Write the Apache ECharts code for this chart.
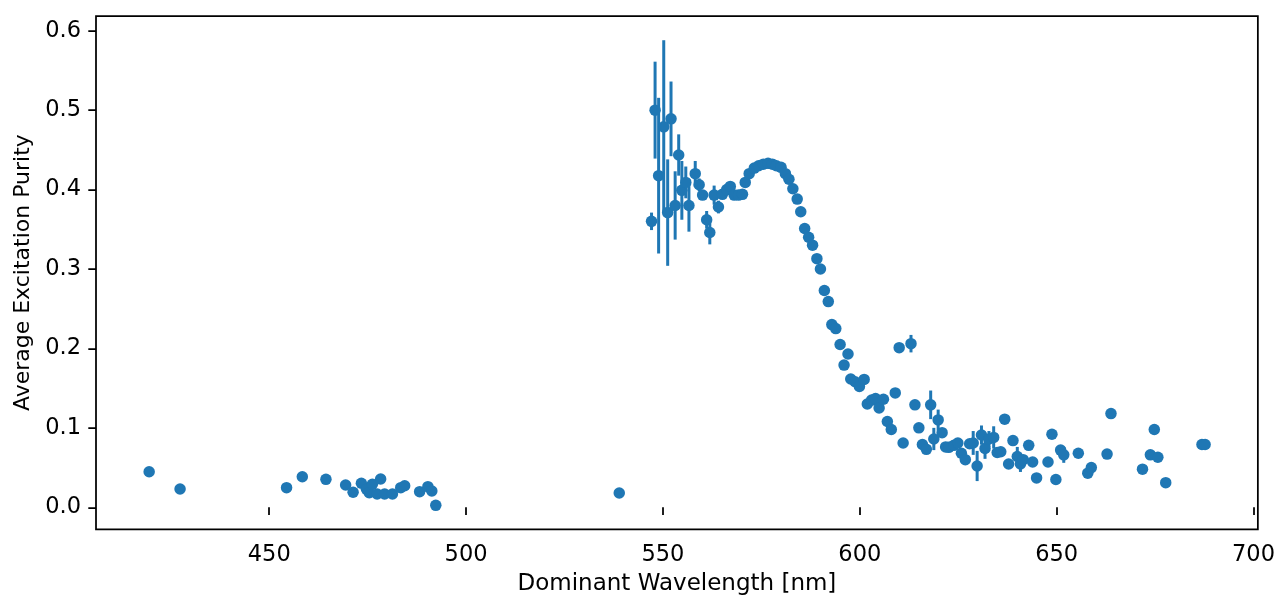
<!DOCTYPE html>
<html>
<head>
<meta charset="utf-8">
<script src="https://cdn.jsdelivr.net/npm/echarts@6/dist/echarts.min.js"></script>
<style>
html,body{margin:0;padding:0;background:#fff;}
#chart{width:1278px;height:601px;}
</style>
</head>
<body>
<div id="chart"></div>
<script>
// Dominant wavelength [nm]
const wavelength = [
  419.5, 427.35, 454.4, 458.4, 464.4, 469.4, 471.3, 473.4, 474.7, 475.4,
  476.2, 477.4, 478.3, 479.3, 481.3, 483.4, 484.4, 488.2, 490.3, 491.3,
  492.3, 538.9,
  547.1, 548.0, 548.9, 550.2, 551.2, 552.05, 553.1, 554.0, 554.8, 555.8,
  556.6, 558.2, 559.2, 560.07, 561.1, 561.9, 563.0, 564.1, 565.1, 566.2,
  567.1, 568.1, 569.2, 570.2, 570.9, 571.9, 573.2, 574.3, 575.5, 576.7,
  577.8, 578.8, 580.0, 581.1, 582.0, 583.0, 584.1, 585.0, 586.0, 587.0,
  588.0, 589.1, 590.0, 591.0, 592.0, 592.9, 593.9, 595.0, 596.0, 597.0,
  597.7, 598.8, 599.9, 601.1, 601.9, 603.0, 604.0, 604.9, 606.0, 607.0,
  608.0, 609.0, 610.0, 611.0, 613.0, 614.0, 615.0, 615.9, 616.9, 618.0,
  618.8, 619.9, 620.9, 621.8, 622.6, 623.9, 624.9, 625.8, 626.8, 627.9,
  628.8, 629.8, 630.9, 631.8, 632.8, 634.0, 634.9, 635.8, 636.8, 637.8,
  638.9, 640.0, 640.8, 641.5, 642.9, 643.9, 644.9, 647.8, 648.8, 649.8,
  651.0, 651.8, 655.5, 657.9, 658.8, 662.8, 663.8, 671.8, 673.8, 674.8,
  675.7, 677.7, 686.9, 687.7
];
// Average excitation purity
const purity = [
  0.0448, 0.023, 0.0247, 0.0385, 0.0352, 0.0281, 0.0189, 0.0302, 0.0227, 0.0184,
  0.029, 0.0167, 0.0356, 0.0167, 0.0167, 0.0247, 0.0272, 0.0197, 0.026, 0.0205,
  0.0025, 0.018,
  0.360, 0.500, 0.4175, 0.479, 0.371, 0.489, 0.380, 0.4435, 0.399, 0.409,
  0.380, 0.420, 0.406, 0.393, 0.362, 0.346, 0.393, 0.378, 0.394, 0.400,
  0.404, 0.393, 0.393, 0.394, 0.409, 0.420, 0.427, 0.430, 0.432, 0.433,
  0.432, 0.430, 0.428, 0.420, 0.413, 0.401, 0.388, 0.372, 0.351, 0.340,
  0.330, 0.313, 0.300, 0.273, 0.259, 0.230, 0.225, 0.205, 0.179, 0.193,
  0.1615, 0.158, 0.152, 0.161, 0.130, 0.135, 0.137, 0.125, 0.136, 0.108,
  0.098, 0.144, 0.201, 0.081, 0.206, 0.129, 0.100, 0.079, 0.073, 0.129,
  0.086, 0.110, 0.094, 0.076, 0.0755, 0.078, 0.081, 0.068, 0.060, 0.080,
  0.081, 0.052, 0.091, 0.074, 0.086, 0.088, 0.069, 0.070, 0.111, 0.0545,
  0.084, 0.064, 0.0545, 0.060, 0.078, 0.057, 0.037, 0.057, 0.092, 0.035,
  0.072, 0.066, 0.068, 0.043, 0.050, 0.067, 0.118, 0.048, 0.066, 0.098,
  0.063, 0.031, 0.079, 0.079
];
// Half-length of the vertical error bar (0 = not visible)
const purityError = [
  0, 0, 0, 0, 0, 0, 0, 0, 0, 0,
  0, 0, 0, 0, 0, 0, 0, 0, 0, 0,
  0, 0,
  0.011, 0.061, 0.098, 0.109, 0.067, 0.047, 0.043, 0.026, 0.037, 0.020,
  0.033, 0.016, 0.008, 0, 0.011, 0.015, 0.012, 0.008, 0, 0,
  0, 0, 0, 0, 0, 0, 0, 0, 0, 0,
  0, 0, 0, 0, 0, 0, 0, 0, 0, 0,
  0, 0, 0, 0, 0, 0, 0, 0, 0, 0,
  0, 0, 0, 0, 0, 0, 0, 0, 0, 0,
  0, 0, 0, 0, 0.011, 0, 0, 0, 0, 0.018,
  0.014, 0.013, 0, 0, 0, 0, 0, 0, 0, 0,
  0.015, 0.019, 0.012, 0.013, 0.010, 0.014, 0, 0, 0, 0,
  0, 0.012, 0.010, 0, 0, 0, 0, 0, 0, 0,
  0, 0.010, 0, 0, 0, 0, 0, 0, 0, 0,
  0, 0, 0, 0
];
const xTicks = [450, 500, 550, 600, 650, 700];
const yTicks = [0.0, 0.1, 0.2, 0.3, 0.4, 0.5, 0.6];

const color = '#1f77b4';
const font = 'DejaVu Sans';

const points = wavelength.map((x, i) => [x, purity[i]]);
const bars = wavelength.map((x, i) => [x, purity[i] - purityError[i], purity[i] + purityError[i]])
  .filter((d, i) => purityError[i] > 0);

const chart = echarts.init(document.getElementById('chart'), null, {renderer: 'canvas'});
chart.setOption({
  animation: false,
  backgroundColor: '#fff',
  grid: {
    left: 96, right: 18.5, top: 16, bottom: 71.7,
    show: true, borderColor: '#000', borderWidth: 1.75, backgroundColor: 'transparent'
  },
  xAxis: {
    type: 'value', min: 406.0, max: 701.1,
    name: 'Dominant Wavelength [nm]', nameLocation: 'middle', nameGap: 43,
    nameTextStyle: {fontFamily: font, fontSize: 23, color: '#000'},
    axisLine: {show: false},
    splitLine: {show: false},
    axisTick: {show: true, length: 7.7, lineStyle: {color: '#000', width: 1.75}, customValues: xTicks},
    axisLabel: {fontFamily: font, fontSize: 22.5, color: '#000', margin: 14, customValues: xTicks,
      formatter: v => String(Math.round(v))}
  },
  yAxis: {
    type: 'value', min: -0.0277, max: 0.6185,
    name: 'Average Excitation Purity', nameLocation: 'middle', nameGap: 62, nameRotate: 90,
    nameTextStyle: {fontFamily: font, fontSize: 22, color: '#000'},
    axisLine: {show: false},
    splitLine: {show: false},
    axisTick: {show: true, length: 7.7, lineStyle: {color: '#000', width: 1.75}, customValues: yTicks},
    axisLabel: {fontFamily: font, fontSize: 22.5, color: '#000', margin: 15, customValues: yTicks,
      formatter: v => v.toFixed(1)}
  },
  series: [
    {
      type: 'custom',
      data: bars,
      encode: {x: 0, y: [1, 2]},
      renderItem: function (params, api) {
        const p1 = api.coord([api.value(0), api.value(1)]);
        const p2 = api.coord([api.value(0), api.value(2)]);
        return {
          type: 'line',
          shape: {x1: p1[0], y1: p1[1], x2: p2[0], y2: p2[1]},
          style: {stroke: color, lineWidth: 3}
        };
      },
      z: 2
    },
    {
      type: 'scatter',
      data: points,
      symbol: 'circle',
      symbolSize: 11.5,
      itemStyle: {color: color, opacity: 1},
      z: 3
    }
  ]
});
</script>
</body>
</html>
